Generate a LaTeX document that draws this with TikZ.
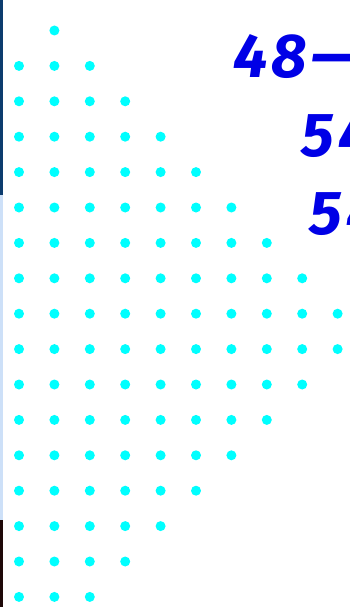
\documentclass[tikz,border=0pt]{standalone}
\usepackage{fontspec}
\newfontfamily\handfont{Fira Sans}
\definecolor{dotcyan}{RGB}{0,255,255}
\definecolor{inkblue}{RGB}{0,0,230}
\definecolor{edgetop}{RGB}{12,60,110}
\definecolor{edgemid}{RGB}{205,224,248}
\definecolor{edgebot}{RGB}{30,8,8}

\begin{document}
\begin{tikzpicture}[x=1pt, y=-1pt]
    % frame
    \clip (0, 0) rectangle (350, 607);
    \fill[white] (0, 0) rectangle (350, 607);

    % left screen edge
    \fill[edgetop] (0, 0) rectangle (2.5, 195);
    \fill[edgemid] (0, 195) rectangle (2.5, 520);
    \fill[edgebot] (0, 520) rectangle (2.5, 607);

    % dots
    \def\dx{35.4}
    \def\r{5}
    \fill[dotcyan] (19+\dx, 30.5) circle (\r);
    \foreach \j in {1,...,16} {
        \pgfmathtruncatemacro{\n}{\j < 9 ? \j+1 : 18-\j}
        \foreach \i in {0,...,\n} {
            \fill[dotcyan] (19+\dx*\i, 30.5+\dx*\j) circle (\r);
        }
    }

    % sums
    \tikzset{hand/.style={anchor=base west, inner sep=0, inkblue,
        font=\handfont\bfseries\itshape\fontsize{62}{66}\selectfont}}
    \node[hand] (calc1) at (233, 78) {4\kern4pt8\kern4pt—};
    \node[hand] (calc2) at (301, 156) {5\kern5pt4};
    \node[hand] (calc3) at (309, 234) {5\kern5pt4};
\end{tikzpicture}
\end{document}
